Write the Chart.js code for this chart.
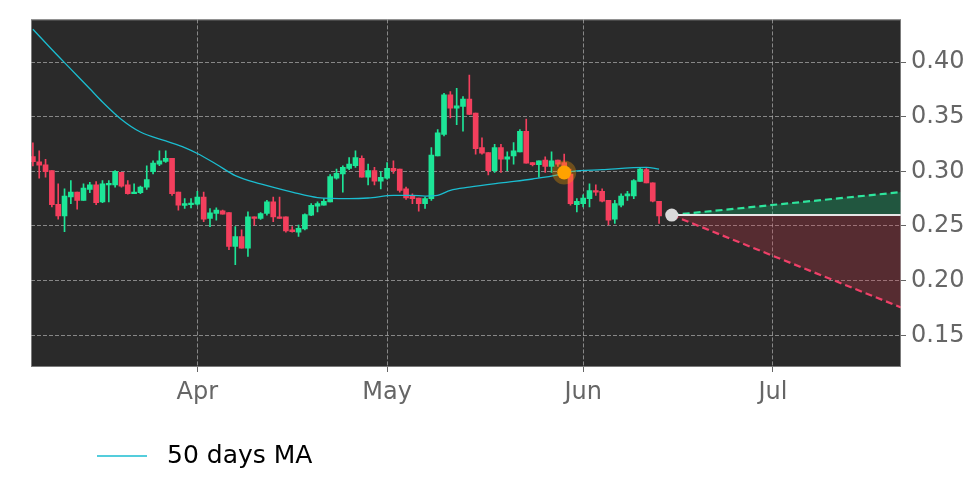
<!DOCTYPE html>
<html>
<head>
<meta charset="utf-8">
<script src="https://cdn.jsdelivr.net/npm/chart.js@4.4.1/dist/chart.umd.min.js"></script>
<style>
  html, body { margin: 0; padding: 0; background: #ffffff; }
  #wrap { width: 972px; height: 486px; }
</style>
</head>
<body>
<div id="wrap"><canvas id="c" width="972" height="486"></canvas></div>
<script>
// ---- data (day offsets relative to 1 April; candles are daily) ----
const firstDay = -26; // 6 March
const opens  = [0.3136,0.3088,0.3060,0.3006,0.2699,0.2593,0.2765,0.2810,0.2735,0.2834,
                0.2876,0.2720,0.2876,0.2876,0.2991,0.2876,0.2795,0.2804,0.2855,0.2997,
                0.3066,0.3090,0.3118,0.2810,0.2688,0.2695,0.2699,0.2765,0.2569,0.2614,
                0.2638,0.2623,0.2313,0.2403,0.2298,0.2584,0.2569,0.2614,0.2720,0.2584,
                0.2584,0.2464,0.2443,0.2473,0.2600,0.2681,0.2690,0.2720,0.2937,0.2976,
                0.3027,0.3051,0.3118,0.2946,0.3006,0.2910,0.2937,0.3027,0.3021,0.2840,
                0.2780,0.2756,0.2705,0.2750,0.3142,0.3337,0.3699,0.3578,0.3594,0.3660,
                0.3533,0.3217,0.3172,0.3006,0.3217,0.3111,0.3142,0.3178,0.3367,0.3081,
                0.3060,0.3102,0.3045,0.3102,0.3081,0.2976,0.2695,0.2705,0.2750,0.2825,
                0.2817,0.2735,0.2563,0.2690,0.2774,0.2774,0.2907,0.3015,0.2895,0.2726];
const highs  = [0.3260,0.3187,0.3110,0.3006,0.2885,0.2840,0.2916,0.2810,0.2885,0.2900,
                0.2907,0.2916,0.2916,0.3006,0.2991,0.2916,0.2885,0.2864,0.3051,0.3097,
                0.3187,0.3187,0.3118,0.2810,0.2750,0.2750,0.2817,0.2810,0.2660,0.2666,
                0.2645,0.2623,0.2494,0.2464,0.2629,0.2584,0.2623,0.2735,0.2765,0.2765,
                0.2584,0.2494,0.2508,0.2611,0.2705,0.2720,0.2750,0.2970,0.3020,0.3051,
                0.3127,0.3187,0.3142,0.3066,0.3036,0.2997,0.3081,0.3097,0.3021,0.2855,
                0.2795,0.2756,0.2765,0.3217,0.3383,0.3714,0.3730,0.3760,0.3684,0.3880,
                0.3533,0.3307,0.3172,0.3247,0.3247,0.3178,0.3262,0.3383,0.3479,0.3081,
                0.3097,0.3133,0.3178,0.3102,0.3157,0.3020,0.2750,0.2786,0.2885,0.2876,
                0.2840,0.2735,0.2735,0.2795,0.2817,0.2925,0.3027,0.3027,0.2895,0.2726];
const lows   = [0.3050,0.2937,0.2946,0.2675,0.2563,0.2449,0.2705,0.2654,0.2735,0.2804,
                0.2695,0.2713,0.2720,0.2855,0.2855,0.2790,0.2795,0.2795,0.2834,0.2976,
                0.3051,0.3081,0.2780,0.2645,0.2660,0.2665,0.2690,0.2539,0.2494,0.2554,
                0.2608,0.2283,0.2147,0.2298,0.2222,0.2508,0.2560,0.2600,0.2539,0.2569,
                0.2443,0.2443,0.2404,0.2464,0.2594,0.2629,0.2690,0.2720,0.2928,0.2810,
                0.3015,0.3036,0.2946,0.2876,0.2876,0.2840,0.2928,0.2982,0.2810,0.2744,
                0.2705,0.2636,0.2660,0.2735,0.3142,0.3325,0.3488,0.3428,0.3367,0.3518,
                0.3157,0.3157,0.2967,0.2991,0.2991,0.3006,0.3066,0.3178,0.3075,0.3050,
                0.2946,0.2991,0.2991,0.3045,0.2980,0.2690,0.2629,0.2674,0.2674,0.2780,
                0.2720,0.2509,0.2524,0.2675,0.2735,0.2750,0.2907,0.2895,0.2720,0.2524];
const closes = [0.3088,0.3057,0.2997,0.2695,0.2593,0.2774,0.2810,0.2735,0.2846,0.2876,
                0.2713,0.2885,0.2890,0.3000,0.2864,0.2795,0.2810,0.2855,0.2924,0.3075,
                0.3097,0.3120,0.2795,0.2690,0.2705,0.2710,0.2765,0.2563,0.2620,0.2645,
                0.2608,0.2313,0.2403,0.2298,0.2584,0.2569,0.2614,0.2720,0.2584,0.2569,
                0.2455,0.2449,0.2479,0.2605,0.2690,0.2705,0.2726,0.2952,0.2982,0.3036,
                0.3066,0.3127,0.2946,0.3006,0.2910,0.2946,0.3027,0.3006,0.2825,0.2756,
                0.2750,0.2705,0.2750,0.3148,0.3353,0.3699,0.3578,0.3600,0.3660,0.3520,
                0.3208,0.3166,0.3006,0.3217,0.3111,0.3133,0.3187,0.3367,0.3075,0.3060,
                0.3097,0.3045,0.3097,0.3066,0.2991,0.2705,0.2726,0.2756,0.2825,0.2810,
                0.2726,0.2554,0.2705,0.2774,0.2795,0.2916,0.3020,0.2895,0.2726,0.2593];

// 50 days moving average (read at sample days)
const maDays   = [-26,-23,-20,-17,-15,-12,-9,-5,-2,0,3,6,10,15,19,24,27,31,34,36,38,40,43,48,53,57,59,64,71,73];
const maValues = [0.430,0.4115,0.3935,0.3755,0.3635,0.3475,0.3360,0.3278,0.3217,0.3163,0.3065,0.2961,0.2885,0.2810,0.2760,
                  0.2750,0.2756,0.2780,0.2780,0.2774,0.2780,0.2826,0.2855,0.2894,0.2930,0.2967,0.2997,0.3015,0.3036,0.3020];

// markers
const signalDay = [58];   const signalPrice = [0.299];
const lastDay   = [75];   const lastPrice   = [0.260];

// forecast cone
const forecastDays  = [75, 111.25];
const forecastBase  = [0.260, 0.260];
const forecastUpper = [0.260, 0.281];
const forecastLower = [0.260, 0.1755];

// axes
const tickDays   = [0, 30, 61, 91];
const tickLabels = ['Apr', 'May', 'Jun', 'Jul'];
const yTicks     = [0.15, 0.20, 0.25, 0.30, 0.35, 0.40];
const legendLabel = '50 days MA';

// ---- build ----
const UP = '#1de597', DOWN = '#f33f5d', MA = '#1bbdd0';
const days = opens.map((_, i) => firstDay + i);
const candleColors = opens.map((o, i) => closes[i] >= o ? UP : DOWN);
const pts = (xs, ys) => xs.map((x, i) => ({ x: x, y: ys[i] }));

const bgPlugin = {
  id: 'bg',
  beforeDraw(chart) {
    const { ctx, chartArea: a } = chart;
    ctx.save();
    ctx.fillStyle = '#2a2a2a';
    ctx.fillRect(a.left, a.top, a.right - a.left, a.bottom - a.top);
    ctx.restore();
  },
  afterDraw(chart) {
    const { ctx, chartArea: a } = chart;
    ctx.save();
    ctx.strokeStyle = 'rgba(190,190,190,0.55)';
    ctx.lineWidth = 1;
    ctx.strokeRect(a.left + 0.5, a.top + 0.5, a.right - a.left - 1, a.bottom - a.top - 1);
    // legend
    const ly = 456;
    ctx.strokeStyle = MA;
    ctx.lineWidth = 1.5;
    ctx.beginPath();
    ctx.moveTo(97, ly);
    ctx.lineTo(147, ly);
    ctx.stroke();
    ctx.fillStyle = '#000000';
    ctx.font = '25px "DejaVu Sans"';
    ctx.textBaseline = 'middle';
    ctx.textAlign = 'left';
    ctx.fillText(legendLabel, 167, ly);
    ctx.restore();
  }
};

const gridOpts = { color: 'rgba(175,175,175,0.7)', lineWidth: 1, offset: false,
                   tickColor: '#666666', tickLength: 5, tickBorderDash: [] };

new Chart(document.getElementById('c'), {
  type: 'bar',
  data: {
    datasets: [
      { type: 'line', label: 'base', data: pts(forecastDays, forecastBase),
        borderColor: '#e6e6e6', borderWidth: 2, pointRadius: 0, fill: false, order: 3 },
      { type: 'line', label: 'upper', data: pts(forecastDays, forecastUpper),
        borderColor: '#2ee59d', borderWidth: 2.2, borderDash: [7, 4], pointRadius: 0,
        fill: { target: 0 }, backgroundColor: 'rgba(10,200,120,0.28)', order: 3 },
      { type: 'line', label: 'lower', data: pts(forecastDays, forecastLower),
        borderColor: '#ef4068', borderWidth: 2.2, borderDash: [7, 4], pointRadius: 0,
        fill: { target: 0 }, backgroundColor: 'rgba(220,50,70,0.25)', order: 3 },
      { type: 'bar', label: 'wick', data: pts(days, lows.map((l, i) => [l, highs[i]])),
        backgroundColor: candleColors, barThickness: 1, grouped: false, order: 2 },
      { type: 'bar', label: 'body', data: pts(days, opens.map((o, i) => [o, closes[i]])),
        backgroundColor: candleColors, barThickness: 5, grouped: false, minBarLength: 1, order: 1 },
      { type: 'line', label: legendLabel, data: pts(maDays, maValues),
        borderColor: MA, borderWidth: 1.3, pointRadius: 0, cubicInterpolationMode: 'monotone', order: 0 },
      { type: 'scatter', label: 'halo', data: pts(signalDay, signalPrice),
        pointRadius: 12, backgroundColor: 'rgba(255,160,0,0.32)', borderWidth: 0, order: -1 },
      { type: 'scatter', label: 'signal', data: pts(signalDay, signalPrice),
        pointRadius: 7, backgroundColor: '#ffa200', borderWidth: 0, order: -2 },
      { type: 'scatter', label: 'last', data: pts(lastDay, lastPrice),
        pointRadius: 6.5, backgroundColor: '#d9d9d9', borderWidth: 0, order: -2 }
    ]
  },
  options: {
    responsive: false,
    animation: false,
    devicePixelRatio: 1,
    layout: { padding: { left: 31, top: 16, right: 0, bottom: 0 } },
    plugins: { legend: { display: false }, tooltip: { enabled: false } },
    scales: {
      x: {
        type: 'linear', min: -26.3, max: 111.25, offset: false,
        afterBuildTicks: s => { s.ticks = tickDays.map(v => ({ value: v })); },
        afterFit: s => { s.height = 119; },
        ticks: {
          callback: v => { const k = tickDays.indexOf(v); return k >= 0 ? tickLabels[k] : ''; },
          color: '#666666', font: { family: 'DejaVu Sans', size: 24 }, padding: 6,
          maxRotation: 0, autoSkip: false
        },
        grid: gridOpts,
        border: { display: false, dash: [4, 2] }
      },
      y: {
        position: 'right', min: 0.121, max: 0.439,
        afterBuildTicks: s => { s.ticks = yTicks.map(v => ({ value: v })); },
        afterFit: s => { s.width = 71; },
        ticks: {
          callback: v => v.toFixed(2),
          color: '#666666', font: { family: 'DejaVu Sans', size: 24 }, padding: 5
        },
        grid: gridOpts,
        border: { display: false, dash: [4, 2] }
      }
    }
  },
  plugins: [bgPlugin]
});
</script>
</body>
</html>
